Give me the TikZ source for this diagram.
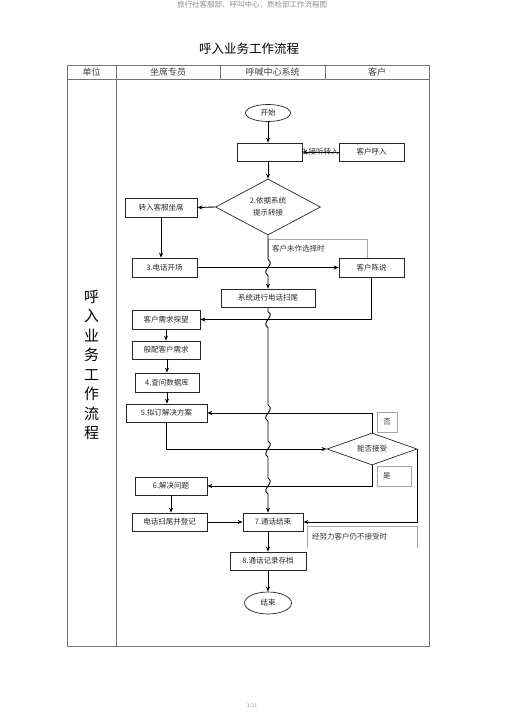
\documentclass[tikz,border=0pt]{standalone}
\usepackage{fontspec}
\setmainfont{Noto Sans CJK SC}
\usetikzlibrary{shapes.geometric, arrows.meta}
\newcommand{\hop}[1]{-- (268,#1-8) .. controls (276,#1-3) and (260,#1+3) .. (268,#1+8)}

\begin{document}
\begin{tikzpicture}[x=1pt, y=-1pt,
    stepbox/.style={draw=black!85, line width=0.7pt, inner sep=0pt, font=\fontsize{7.5}{9}\selectfont, text=black!85},
    note/.style={draw=black!35, line width=0.4pt},
    notetext/.style={font=\fontsize{7.5}{9}\selectfont, text=black!80},
    flow/.style={-{Stealth[length=5pt, width=4pt]}, line width=0.9pt},
    frameline/.style={draw=black!55, line width=0.6pt}]
    \useasboundingbox (0,0) rectangle (505,714);

    % Page header, title and footer
    \node[text=black!45, font=\fontsize{7.5}{9}\selectfont] (pagehead) at (252,5) {旅行社客服部、呼叫中心、质检部工作流程图};
    \node[font=\fontsize{12.5}{14}\selectfont] (title) at (249,49) {呼入业务工作流程};
    \node[text=black!45, font=\fontsize{5}{6}\selectfont] (pagefoot) at (252,706) {1/11};

    % Table frame
    \draw[frameline] (67,65) rectangle (429,646);
    \draw[frameline] (67,79) -- (429,79);
    \draw[frameline] (116,65) -- (116,646);
    \draw[frameline] (220,65) -- (220,79);
    \draw[frameline] (325,65) -- (325,79);
    \node[text=black!75, font=\fontsize{9}{10}\selectfont] (colunit) at (91.5,72) {单位};
    \node[text=black!75, font=\fontsize{9}{10}\selectfont] (colagent) at (168,72) {坐席专员};
    \node[text=black!75, font=\fontsize{9}{10}\selectfont] (colsystem) at (272.5,72) {呼喊中心系统};
    \node[text=black!75, font=\fontsize{9}{10}\selectfont] (colclient) at (377,72) {客户};
    \node[align=center, font=\fontsize{15}{19.5}\selectfont] (sidetitle) at (91.5,365)
        {呼\\入\\业\\务\\工\\作\\流\\程};

    % Start, incoming call and transfer
    \node[stepbox, ellipse, minimum width=45pt, minimum height=17pt] (start) at (268,113) {开始};
    \node[stepbox, minimum width=65pt, minimum height=18pt] (answer) at (269.5,152) {};
    \node[stepbox, minimum width=65pt, minimum height=18pt] (call) at (371.5,152) {客户呼入};
    \node[stepbox, diamond, aspect=1.9, minimum width=105pt, minimum height=56pt, align=center] (route) at (268,207)
        {2.依据系统\\[3pt]提示转接};
    \node[stepbox, minimum width=72pt, minimum height=19pt] (transfer) at (161,207.5) {转入客服坐席};
    \node[stepbox, minimum width=65pt, minimum height=19pt] (opening) at (164.5,267.5) {3.电话开场};
    \node[stepbox, minimum width=65pt, minimum height=19pt] (tell) at (371.5,267.5) {客户陈说};
    \node[stepbox, minimum width=94pt, minimum height=18pt] (sysend) at (268,298) {系统进行电话扫尾};

    % Agent side steps
    \node[stepbox, minimum width=68pt, minimum height=19pt] (needs) at (166,319.5) {客户需求探望};
    \node[stepbox, minimum width=68pt, minimum height=18pt] (match) at (166,350) {般配客户需求};
    \node[stepbox, minimum width=64pt, minimum height=19pt] (query) at (167,382.5) {4.查问数据库};
    \node[stepbox, minimum width=81pt, minimum height=18pt] (plan) at (166.5,413) {5.拟订解决方案};
    \node[stepbox, diamond, aspect=2.8, minimum width=90pt, minimum height=32pt] (accept) at (372,449) {能否接受};
    \node[stepbox, minimum width=72pt, minimum height=18pt] (solve) at (171,486) {6.解决问题};
    \node[stepbox, minimum width=75pt, minimum height=18pt] (record) at (169.5,522) {电话扫尾并登记};
    \node[stepbox, minimum width=60pt, minimum height=18pt] (callend) at (273,522) {7.通话结束};
    \node[stepbox, minimum width=76pt, minimum height=18pt] (archive) at (268,561) {8.通话记录存档};
    \node[stepbox, ellipse, minimum width=47pt, minimum height=22pt] (finish) at (268,603) {结束};

    % Grey notes
    \node[notetext, text width=91pt, inner sep=4pt, minimum height=19pt] (undecided) at (317.5,248.5) {客户未作选择时};
    \draw[note] (undecided.south west) |- (undecided.north east) -- (undecided.south east);
    \node[note, notetext, minimum width=20pt, minimum height=20pt, inner sep=0pt] (nomark) at (387,422) {否};
    \node[note, notetext, text width=22pt, inner sep=6pt, minimum height=20pt] (yesmark) at (394,476) {是};
    \node[notetext, text width=100pt, inner sep=5pt, minimum height=22pt] (refuse) at (362,537) {经努力客户仍不接受时};
    \draw[note] (refuse.south west) |- (refuse.north east) -- (refuse.south east);

    % Connectors
    \draw[flow] (start.south) -- (start.south |- answer.north);
    \draw[flow] (call.west) -- node[notetext] (pickup) {1.接听转入} (answer.east);
    \draw[flow] (route.north |- answer.south) -- (route.north);
    \draw[flow] (route.west) -- (transfer.east);
    \draw[flow] (transfer.south) -- (transfer.south |- opening.north);
    \draw[flow] (opening.east) -- (tell.west);
    \draw[flow] (route.south) \hop{267.5} -- (sysend.north);
    \draw[flow] (tell.south) |- (needs.east);
    \draw[flow] (needs.south) -- (needs.south |- match.north);
    \draw[flow] (match.south -| query.south) -- (query.north);
    \draw[flow] (query.south) -- (query.south |- plan.north);
    \draw[flow] (sysend.south) \hop{319.5} \hop{413} \hop{449} \hop{486} -- (sysend.south |- callend.north);
    \draw[flow] (plan.south) |- (accept.west);
    \draw[flow] (accept.north) |- (plan.east);
    \draw[flow] (accept.south) |- (solve.east);
    \draw[flow] (solve.south) -- (solve.south |- record.north);
    \draw[flow] (record.east) -- (callend.west);
    \draw[flow] (accept.east) |- (callend.east);
    \draw[flow] (archive.north |- callend.south) -- (archive.north);
    \draw[flow] (archive.south) -- (finish.north);
\end{tikzpicture}
\end{document}
